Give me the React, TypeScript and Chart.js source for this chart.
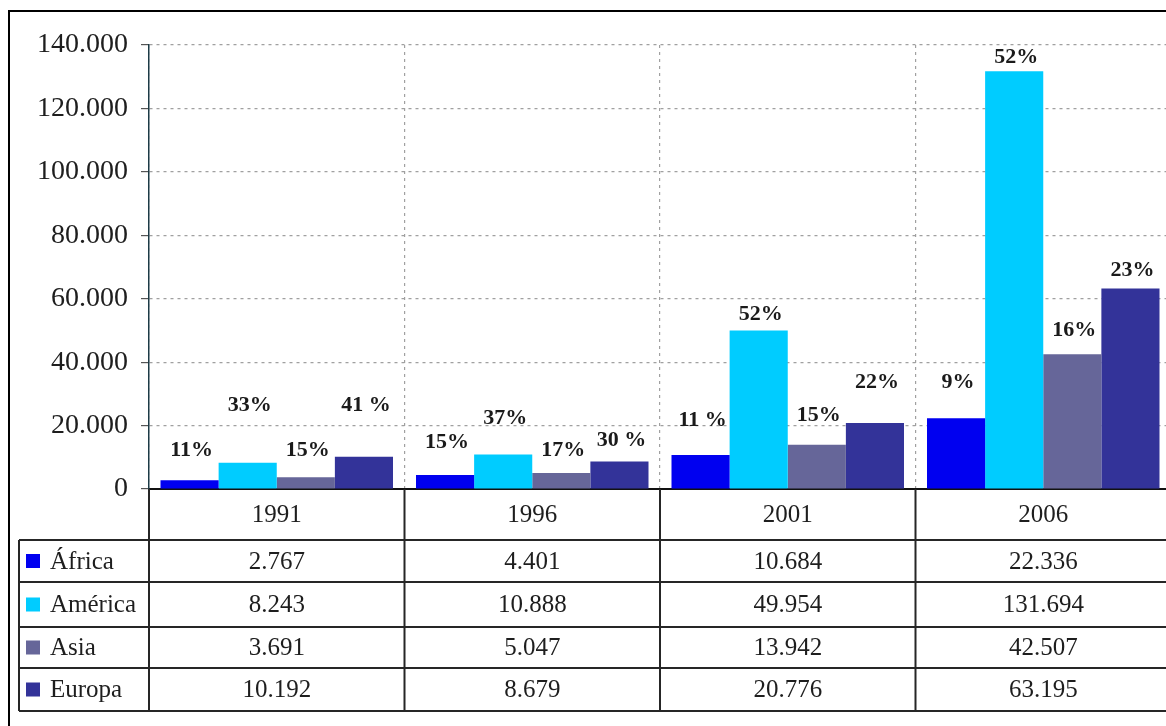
import React, { useEffect, useRef } from "react";
import { Chart, registerables } from "chart.js";

Chart.register(...registerables);

// ---- data ----
const years = ["1991", "1996", "2001", "2006"];
const regionNames = ["África", "América", "Asia", "Europa"];

const africa = [2767, 4401, 10684, 22336];
const america = [8243, 10888, 49954, 131694];
const asia = [3691, 5047, 13942, 42507];
const europa = [10192, 8679, 20776, 63195];

const africaPct = ["11%", "15%", "11 %", "9%"];
const americaPct = ["33%", "37%", "52%", "52%"];
const asiaPct = ["15%", "17%", "15%", "16%"];
const europaPct = ["41 %", "30 %", "22%", "23%"];

// height (in axis units) at which each percentage label sits
const africaPctAt = [12300, 14800, 21800, 33700];
const americaPctAt = [26500, 22400, 55200, 136200];
const asiaPctAt = [12300, 12300, 23300, 50100];
const europaPctAt = [26500, 15500, 33700, 69100];

const yMax = 140000;
const yStep = 20000;

const colors = ["#0000F0", "#00CCFF", "#666699", "#333399"];

// ---- layout constants ----
const W = 1175;
const H = 726;
const SERIF = "'Liberation Serif', 'Times New Roman', serif";

const fmt = (v: number) => String(v).replace(/\B(?=(\d{3})+(?!\d))/g, ".");

const tablePlugin = {
  id: "tablePlugin",
  afterDraw(chart: any) {
    const ctx = chart.ctx as CanvasRenderingContext2D;
    const xs = chart.scales.x;
    const ys = chart.scales.y;
    const area = chart.chartArea;
    const pcts = [africaPct, americaPct, asiaPct, europaPct];
    const pctAt = [africaPctAt, americaPctAt, asiaPctAt, europaPctAt];
    const series = [africa, america, asia, europa];

    ctx.save();
    // percentage labels
    ctx.font = `bold 22px ${SERIF}`;
    ctx.fillStyle = "#1a1a1a";
    ctx.textAlign = "center";
    ctx.textBaseline = "middle";
    chart.data.datasets.forEach((_ds: any, di: number) => {
      const meta = chart.getDatasetMeta(di);
      meta.data.forEach((bar: any, i: number) => {
        ctx.fillText(pcts[di][i], bar.x + 2, ys.getPixelForValue(pctAt[di][i]));
      });
    });

    // frame
    ctx.strokeStyle = "#000";
    ctx.lineWidth = 2;
    ctx.beginPath();
    ctx.moveTo(9, H);
    ctx.lineTo(9, 11);
    ctx.lineTo(W, 11);
    ctx.stroke();

    // table
    const half = (xs.getPixelForValue(1) - xs.getPixelForValue(0)) / 2;
    const tableLeft = 19;
    const yearRowBottom = 540;
    const rowBottoms = [582, 627, 668, 711];
    const rowTops = [yearRowBottom, ...rowBottoms.slice(0, 3)];

    ctx.strokeStyle = "#262626";
    ctx.lineWidth = 2;
    ctx.beginPath();
    [yearRowBottom, ...rowBottoms].forEach((y) => {
      ctx.moveTo(tableLeft, y);
      ctx.lineTo(W, y);
    });
    ctx.moveTo(tableLeft, yearRowBottom);
    ctx.lineTo(tableLeft, rowBottoms[3]);
    ctx.moveTo(area.left, area.bottom);
    ctx.lineTo(area.left, rowBottoms[3]);
    for (let i = 0; i < years.length; i++) {
      const x = xs.getPixelForValue(i) + half;
      ctx.moveTo(x, area.bottom);
      ctx.lineTo(x, rowBottoms[3]);
    }
    ctx.stroke();

    ctx.fillStyle = "#1e1e1e";
    ctx.font = `25px ${SERIF}`;
    ctx.textAlign = "center";
    ctx.textBaseline = "middle";
    years.forEach((yr, i) => {
      ctx.fillText(yr, xs.getPixelForValue(i), (area.bottom + yearRowBottom) / 2 + 1);
    });
    series.forEach((vals, r) => {
      const cy = (rowTops[r] + rowBottoms[r]) / 2 + 1;
      vals.forEach((v, i) => {
        ctx.fillText(fmt(v), xs.getPixelForValue(i), cy);
      });
    });
    // legend
    ctx.textAlign = "left";
    regionNames.forEach((name, r) => {
      const cy = (rowTops[r] + rowBottoms[r]) / 2;
      ctx.fillStyle = colors[r];
      ctx.fillRect(26, cy - 7, 14, 14);
      ctx.fillStyle = "#1e1e1e";
      ctx.fillText(name, 50, cy + 1);
    });
    ctx.restore();
  },
};

export default function App() {
  const ref = useRef<HTMLCanvasElement>(null);

  useEffect(() => {
    if (!ref.current) return;
    const chart = new Chart(ref.current, {
      type: "bar",
      data: {
        labels: years,
        datasets: [
          { label: regionNames[0], data: africa, backgroundColor: colors[0] },
          { label: regionNames[1], data: america, backgroundColor: colors[1] },
          { label: regionNames[2], data: asia, backgroundColor: colors[2] },
          { label: regionNames[3], data: europa, backgroundColor: colors[3] },
        ],
      },
      options: {
        responsive: false,
        animation: false,
        events: [],
        layout: { padding: { top: 45, right: 4, left: 0, bottom: 0 } },
        datasets: { bar: { categoryPercentage: 0.91, barPercentage: 1.0, borderWidth: 0 } },
        plugins: {
          legend: { display: false },
          tooltip: { enabled: false },
          title: { display: false },
        },
        scales: {
          x: {
            offset: true,
            ticks: { display: false },
            grid: {
              display: true,
              offset: true,
              drawTicks: false,
              color: "#a0a0a0",
              lineWidth: 1.2,
            },
            border: { display: true, color: "#111", width: 2, dash: [3, 4] },
            afterFit: (s: any) => {
              s.height = H - 489;
            },
          },
          y: {
            min: 0,
            max: yMax,
            ticks: {
              stepSize: yStep,
              padding: 13,
              color: "#1e1e1e",
              font: { family: SERIF, size: 28 },
              callback: (v: any) => fmt(Number(v)),
            },
            grid: {
              color: "#a0a0a0",
              lineWidth: 1.2,
              tickLength: 8,
              tickColor: "#555",
              tickBorderDash: [],
            },
            border: { display: true, color: "#1d3b46", width: 1.5, dash: [3, 4] },
            afterFit: (s: any) => {
              s.width = 149;
            },
          },
        },
      },
      plugins: [tablePlugin],
    });
    return () => chart.destroy();
  }, []);

  return (
    <div
      style={{
        position: "fixed",
        left: 0,
        top: 0,
        width: 1166,
        height: 726,
        overflow: "hidden",
        background: "#fff",
      }}
    >
      <canvas ref={ref} width={W} height={H} style={{ display: "block", width: W, height: H }} />
    </div>
  );
}
